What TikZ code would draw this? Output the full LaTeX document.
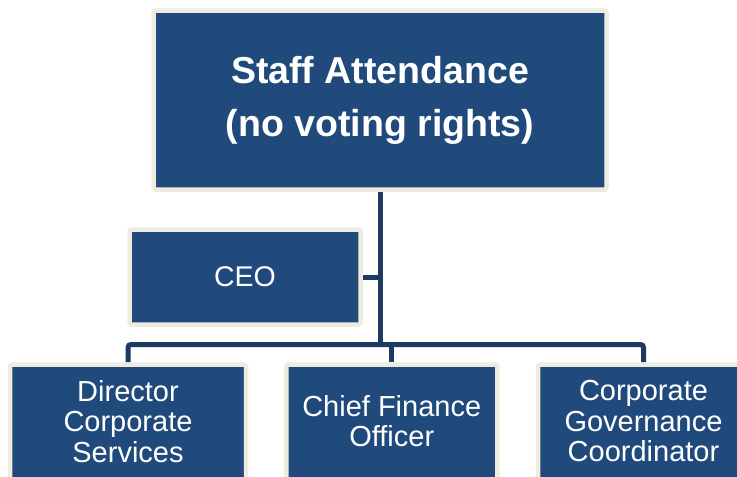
\documentclass[tikz,border=0pt]{standalone}
\usepackage{fontspec}
\setmainfont{Liberation Sans}
\usetikzlibrary{backgrounds}
\definecolor{boxblue}{HTML}{214A7C}
\definecolor{boxtan}{HTML}{EEECE1}
\definecolor{linknavy}{HTML}{1C3A64}
% extra depth under the last line, so the text sits high in a cut-off box
\newcommand{\lowpad}{\rule[-17pt]{0pt}{17pt}}
\tikzset{
  orgbox/.style={draw=boxtan,fill=boxblue,line width=4.5pt,rounded corners=1.5pt,
    text=white,inner sep=0pt,align=center},
  link/.style={draw=linknavy,line width=5pt}
}
\begin{document}
\begin{tikzpicture}[x=1pt,y=1pt]
      \useasboundingbox (0,0) rectangle (737,-477);
      \clip (0,0) rectangle (737,-477);
      \node (top) at (380,-100) [orgbox,minimum width=453,minimum height=179,
        font=\fontsize{37.5}{53}\selectfont\bfseries] {Staff Attendance\\(no voting rights)};
      \node (ceo) at (245,-277) [orgbox,minimum width=231,minimum height=95,
        font=\fontsize{28.5}{30}\selectfont] {CEO};
      \node (dir) at (128,-429.5) [orgbox,minimum width=236,minimum height=130,
        font=\fontsize{29}{30.5}\selectfont] {Director\\Corporate\\Services\lowpad};
      \node (cfo) at (391.75,-429.5) [orgbox,minimum width=211,minimum height=130,
        font=\fontsize{29}{30.5}\selectfont] {Chief Finance\\Officer\lowpad};
      \node (cgc) at (643.5,-429.5) [orgbox,minimum width=211,minimum height=130,
        font=\fontsize{29}{30.5}\selectfont] {Corporate\\Governance\\Coordinator\lowpad};
      \coordinate (bar) at (380,-344.5);
      \begin{scope}[on background layer]
       \draw[link] (top.south) -- (bar);
       \draw[link] (ceo.east) -- (ceo.east -| bar);
       \draw[link,rounded corners=3pt] (dir.north) |- (bar) -| (cgc.north);
       \draw[link] (cfo.north) -- (cfo.north |- bar);
      \end{scope}
     \end{tikzpicture}
\end{document}
